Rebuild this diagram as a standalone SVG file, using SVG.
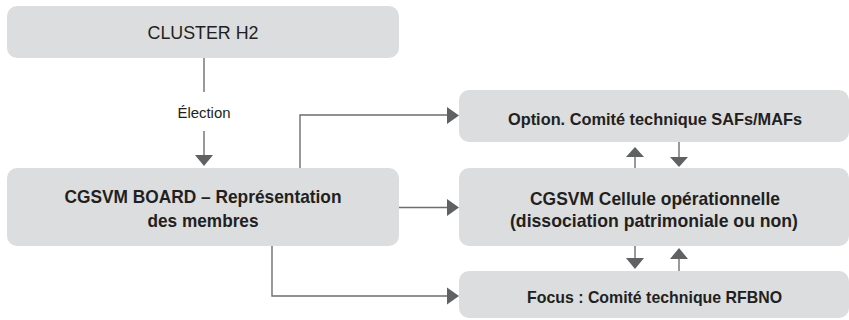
<svg xmlns="http://www.w3.org/2000/svg" width="849" height="320" viewBox="0 0 849 320">
<defs>
<style>
.box{fill:#dcddde;}
.t{font-family:"Liberation Sans",Arial,sans-serif;fill:#231f20;text-anchor:middle;}
.b{font-weight:bold;}
.ln{fill:none;stroke:#6d6e71;stroke-width:1.4;}
.ah{fill:#606163;}
</style>
</defs>
<rect width="849" height="320" fill="#ffffff"/>
<g id="connectors">
<path class="ln" d="M204 58 V92"/>
<text class="t" x="204" y="118" font-size="14.5" textLength="53" lengthAdjust="spacingAndGlyphs">Élection</text>
<path class="ln" d="M204 131 V156"/>
<polygon class="ah" points="195,155 213,155 204,166"/>
<path class="ln" d="M300 168 V115 H448"/>
<polygon class="ah" points="447,107 459,115.5 447,124"/>
<path class="ln" d="M399 207.5 H448"/>
<polygon class="ah" points="447,199 459,207.5 447,216"/>
<path class="ln" d="M272 246 V296 H448"/>
<polygon class="ah" points="447,287.5 459,296 447,304.5"/>
<path class="ln" d="M635 168 V157"/>
<polygon class="ah" points="626,157 644,157 635,147"/>
<path class="ln" d="M679 142 V158"/>
<polygon class="ah" points="670,157 688,157 679,167"/>
<path class="ln" d="M635 246 V259"/>
<polygon class="ah" points="626,258 644,258 635,269"/>
<path class="ln" d="M679 271 V258"/>
<polygon class="ah" points="670,259 688,259 679,248"/>
</g>
<g id="cluster">
<rect class="box" x="7" y="6" width="392" height="52" rx="10"/>
<text class="t" x="203" y="39" font-size="19" textLength="111" lengthAdjust="spacingAndGlyphs">CLUSTER H2</text>
</g>
<g id="board">
<rect class="box" x="7" y="168" width="392" height="78" rx="10"/>
<text class="t b" x="203" y="203" font-size="19" textLength="277" lengthAdjust="spacingAndGlyphs">CGSVM BOARD – Représentation</text>
<text class="t b" x="203" y="227" font-size="19" textLength="111" lengthAdjust="spacingAndGlyphs">des membres</text>
</g>
<g id="option">
<rect class="box" x="459" y="90" width="390" height="52" rx="10"/>
<text class="t b" x="655" y="125" font-size="17" textLength="294" lengthAdjust="spacingAndGlyphs">Option. Comité technique SAFs/MAFs</text>
</g>
<g id="cellule">
<rect class="box" x="459" y="168" width="390" height="78" rx="10"/>
<text class="t b" x="655" y="205" font-size="18.5" textLength="250" lengthAdjust="spacingAndGlyphs">CGSVM Cellule opérationnelle</text>
<text class="t b" x="654" y="227" font-size="18.5" textLength="288" lengthAdjust="spacingAndGlyphs">(dissociation patrimoniale ou non)</text>
</g>
<g id="focus">
<rect class="box" x="459" y="271" width="390" height="47" rx="10"/>
<text class="t b" x="654.5" y="303" font-size="17" textLength="255" lengthAdjust="spacingAndGlyphs">Focus : Comité technique RFBNO</text>
</g>
</svg>
